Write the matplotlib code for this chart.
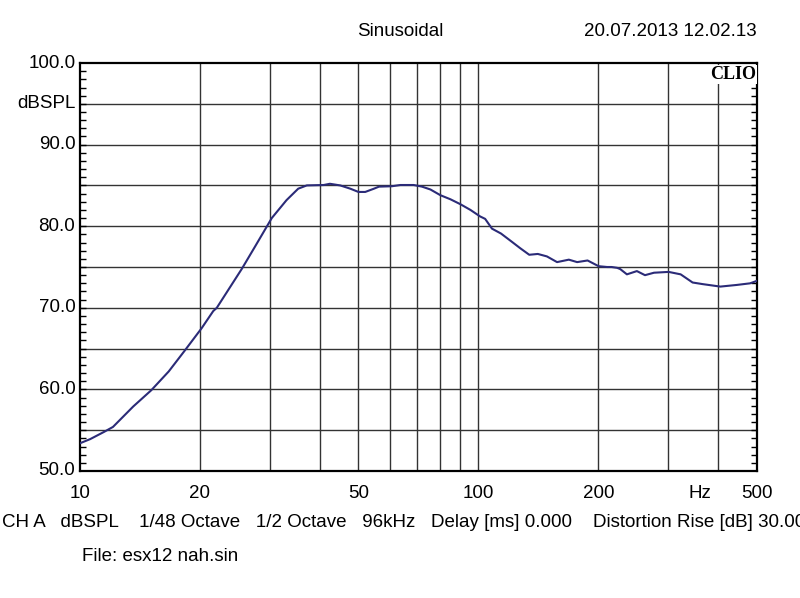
import numpy as np
import matplotlib
matplotlib.use('Agg')
import matplotlib.pyplot as plt
from matplotlib.ticker import FixedLocator, NullFormatter

plt.rcParams['font.family'] = ['Liberation Sans', 'DejaVu Sans']

# Frequenzgang (Hz, dBSPL)
freq = [10, 10.6, 11.5, 12.1, 13.6, 15.1, 16.7, 18.35, 20.2, 21.6, 22.05, 25.5, 27.5,
        30.3, 33.0, 35.3, 37.1, 40.9, 42.4, 45.0, 47.7, 50.0, 52.0, 54.7, 56.3, 60.7,
        63.7, 68.8, 72.2, 75.8, 80.3, 85.1, 90.1, 95.5, 101, 104, 108.2, 114, 121.3,
        127.4, 134.2, 141, 148.6, 157.6, 168.7, 177, 188, 200.4, 210.5, 216, 223, 227,
        236, 250, 262, 276, 300.4, 322, 345, 366, 405, 445, 481, 500]
spl = [53.4, 53.9, 54.8, 55.4, 57.9, 59.9, 62.2, 64.8, 67.5, 69.6, 70.0, 74.8, 77.5,
       81.0, 83.2, 84.6, 85.0, 85.05, 85.2, 85.0, 84.6, 84.2, 84.2, 84.6, 84.85, 84.9,
       85.05, 85.05, 84.85, 84.5, 83.8, 83.3, 82.7, 82.0, 81.2, 80.9, 79.7, 79.1, 78.1,
       77.3, 76.5, 76.6, 76.3, 75.6, 75.9, 75.6, 75.8, 75.1, 75.0, 75.0, 74.9, 74.75,
       74.1, 74.5, 74.0, 74.3, 74.4, 74.1, 73.1, 72.9, 72.6, 72.8, 73.0, 73.3]

xgrid = [20, 30, 40, 50, 60, 70, 80, 90, 100, 200, 300, 400]
xlabels = {10: '10', 20: '20', 50: '50', 100: '100', 200: '200', 500: '500'}
ylabels = [50, 60, 70, 80, 90, 100]

fig = plt.figure(figsize=(8, 5.98), dpi=100)
ax = fig.add_axes([0.1, 0.2124, 0.846, 0.6822])

ax.plot(freq, spl, color='#2b2b78', lw=1.5, zorder=3)

ax.set_xscale('log')
ax.set_xlim(10, 500)
ax.set_ylim(50, 100)

for f in xgrid:
    ax.axvline(f, color='#333333', lw=1.0, zorder=1)
for v in range(55, 100, 5):
    ax.axhline(v, color='#333333', lw=1.0, zorder=1)

ax.xaxis.set_major_locator(FixedLocator([]))
ax.xaxis.set_minor_locator(FixedLocator([]))
ax.xaxis.set_major_formatter(NullFormatter())
ax.xaxis.set_minor_formatter(NullFormatter())
ax.yaxis.set_major_locator(FixedLocator([]))
ax.yaxis.set_minor_locator(FixedLocator(range(51, 100)))
ax.tick_params(axis='y', which='minor', direction='in', length=4, width=1,
               left=True, right=True, labelleft=False)

for s in ax.spines.values():
    s.set_linewidth(1.6)

tf = dict(fontsize=13.5)
for f, lab in xlabels.items():
    ax.text(f, -0.035, lab, transform=ax.get_xaxis_transform(), ha='center', va='top', **tf)
ax.text(360, -0.035, 'Hz', transform=ax.get_xaxis_transform(), ha='center', va='top', **tf)

for v in ylabels:
    ax.text(-0.007, v, '%.1f' % v, transform=ax.get_yaxis_transform(), ha='right', va='center', **tf)
ax.text(-0.007, 95, 'dBSPL', transform=ax.get_yaxis_transform(), ha='right', va='center', **tf)

ax.text(0.999, 0.993, 'CLIO', transform=ax.transAxes, ha='right', va='top',
        fontsize=13, fontweight='bold', family='Liberation Serif', zorder=5,
        bbox=dict(facecolor='white', edgecolor='none', pad=0.5))

fig.text(0.5, 0.947, 'Sinusoidal', ha='center', va='center', **tf)
fig.text(0.946, 0.947, '20.07.2013 12.02.13', ha='right', va='center', **tf)
fig.text(0.002, 0.127,
         'CH A   dBSPL    1/48 Octave   1/2 Octave   96kHz   Delay [ms] 0.000    Distortion Rise [dB] 30.00',
         ha='left', va='center', **tf)
fig.text(0.102, 0.069, 'File: esx12 nah.sin', ha='left', va='center', **tf)

fig.savefig('out.png', dpi=100)
